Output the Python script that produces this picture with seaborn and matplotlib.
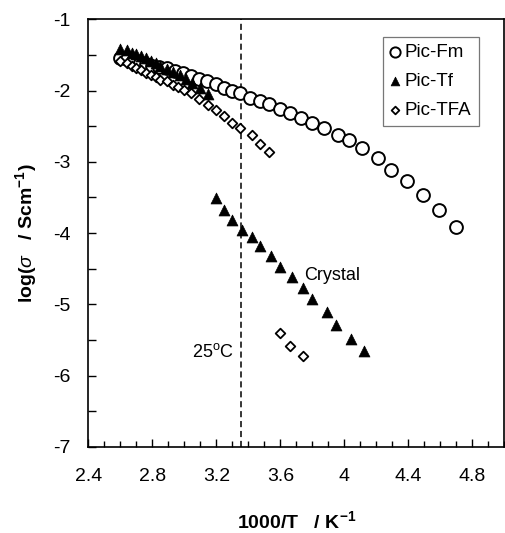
import numpy as np
import pandas as pd
import matplotlib
matplotlib.use("Agg")
import matplotlib.pyplot as plt
import seaborn as sns
from matplotlib.ticker import MultipleLocator

# Values
fm_x = [2.60, 2.64, 2.68, 2.72, 2.76, 2.80, 2.84, 2.89, 2.94, 2.99, 3.04, 3.09,
        3.14, 3.20, 3.25, 3.30, 3.35, 3.41, 3.47, 3.53, 3.60, 3.66, 3.73, 3.80,
        3.875, 3.96, 4.03, 4.11, 4.21, 4.29, 4.39, 4.49, 4.59, 4.70]
fm_y = [-1.54, -1.56, -1.58, -1.61, -1.63, -1.65, -1.67, -1.69, -1.72, -1.76,
        -1.80, -1.84, -1.87, -1.91, -1.96, -2.00, -2.04, -2.10, -2.14, -2.19,
        -2.26, -2.31, -2.38, -2.45, -2.53, -2.62, -2.70, -2.81, -2.95, -3.11,
        -3.27, -3.46, -3.68, -3.91]

tf_x = [2.60, 2.64, 2.67, 2.70, 2.73, 2.76, 2.79, 2.82, 2.85, 2.89, 2.93, 2.97,
        3.01, 3.05, 3.10, 3.15,
        # crystal branch
        3.20, 3.25, 3.30, 3.36, 3.42, 3.47, 3.54, 3.60, 3.67, 3.74, 3.80, 3.89,
        3.95, 4.04, 4.12]
tf_y = [-1.41, -1.43, -1.47, -1.49, -1.52, -1.55, -1.59, -1.62, -1.66, -1.70,
        -1.74, -1.78, -1.84, -1.90, -1.96, -2.05,
        -3.51, -3.67, -3.81, -3.95, -4.06, -4.18, -4.32, -4.47, -4.61, -4.77,
        -4.93, -5.11, -5.29, -5.49, -5.65]

tfa_x = [2.60, 2.64, 2.67, 2.70, 2.73, 2.76, 2.79, 2.82, 2.85, 2.89, 2.93, 2.96,
         3.00, 3.04, 3.09, 3.15, 3.20, 3.25, 3.30, 3.35, 3.42, 3.47, 3.53,
         3.60, 3.66, 3.74]
tfa_y = [-1.59, -1.62, -1.65, -1.68, -1.71, -1.75, -1.78, -1.81, -1.85, -1.87,
         -1.92, -1.95, -1.99, -2.04, -2.12, -2.20, -2.27, -2.36, -2.45, -2.53,
         -2.63, -2.75, -2.86,
         -5.40, -5.59, -5.73]

room_temp = 3.354  # 1000/298 K

sns.set_theme(style="white")
plt.rcParams['font.family'] = ['Liberation Sans', 'DejaVu Sans']
plt.rcParams['mathtext.fontset'] = 'custom'
plt.rcParams['mathtext.rm'] = 'Liberation Sans'
plt.rcParams['mathtext.it'] = 'Liberation Sans:italic'
plt.rcParams['mathtext.bf'] = 'Liberation Sans:bold'
for key in ['text.color', 'axes.labelcolor', 'xtick.color', 'ytick.color']:
    plt.rcParams[key] = 'black'

fig = plt.figure(figsize=(5.06, 5.33), dpi=100)
ax = fig.add_axes([0.1745, 0.1614, 0.8225, 0.8024])

sns.scatterplot(x=fm_x, y=fm_y, ax=ax, marker='o', s=85, facecolor='white',
                edgecolor='black', linewidth=1.4, label='Pic-Fm', zorder=3)
sns.scatterplot(x=tf_x, y=tf_y, ax=ax, marker='^', s=62, color='black',
                edgecolor='black', linewidth=0.5, label='Pic-Tf', zorder=4)
sns.scatterplot(x=tfa_x, y=tfa_y, ax=ax, marker='D', s=24, facecolor='white',
                edgecolor='black', linewidth=1.3, label='Pic-TFA', zorder=5)

ax.axvline(room_temp, color='black', linestyle=(0, (4, 2.5)), linewidth=1.1, zorder=1)

ax.text(3.75, -4.59, 'Crystal', fontsize=13, va='center', ha='left')
ax.text(3.31, -5.67, r'25$^{\rm o}$C', fontsize=13, va='center', ha='right')

ax.set_xlim(2.4, 5.0)
ax.set_ylim(-7, -1)
ax.xaxis.set_minor_locator(MultipleLocator(0.1))
ax.yaxis.set_minor_locator(MultipleLocator(0.5))
ax.set_xticks(np.arange(2.4, 5.0, 0.4))
ax.set_xticklabels(['2.4', '2.8', '3.2', '3.6', '4', '4.4', '4.8'])
ax.set_yticks(np.arange(-7, -0.5, 1))
ax.set_yticklabels([str(v) for v in range(-7, 0)])

ax.tick_params(axis='both', which='both', direction='in', color='black',
               labelsize=14, bottom=True, left=True, top=False, right=False)
ax.tick_params(axis='x', which='major', length=6, width=1, pad=15)
ax.tick_params(axis='x', which='minor', length=4, width=1)
ax.tick_params(axis='y', which='major', length=6, width=1, pad=13)
ax.tick_params(axis='y', which='minor', length=6, width=1)

for sp in ax.spines.values():
    sp.set_color('black')
    sp.set_linewidth(1.2)

ax.set_xlabel(r'1000/T   / K$^{\mathbf{-1}}$', fontsize=14, fontweight='bold', labelpad=18)
ax.set_ylabel(r'log($\sigma$   / Scm$^{\mathbf{-1}}$)', fontsize=14, fontweight='bold', labelpad=10)

leg = ax.legend(loc='upper right', bbox_to_anchor=(0.9387, 0.9593), borderaxespad=0,
                frameon=True, fancybox=False, edgecolor='#555555', fontsize=13.5,
                handlelength=0.5, handletextpad=0.25, labelspacing=0.62,
                borderpad=0.4, markerscale=0.8)
leg.get_frame().set_linewidth(0.9)

fig.savefig('out.png', dpi=100)
